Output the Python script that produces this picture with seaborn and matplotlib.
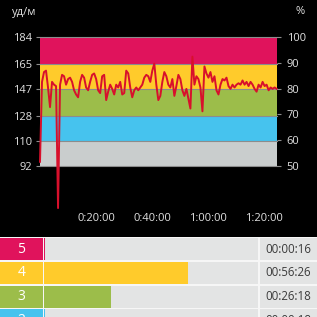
import numpy as np
import matplotlib
matplotlib.use("Agg")
import matplotlib.pyplot as plt
import seaborn as sns
from matplotlib.patches import Rectangle

# heart rate samples (bpm), one sample every ~43 s
step_min = 0.715
hr = [95, 152, 159, 160, 148, 134, 152, 150, 149, 62,
      150, 157, 156, 150, 154, 155, 152, 146, 143, 141,
      152, 157, 155, 148, 146, 152, 157, 158, 154, 146,
      144, 156, 157, 139, 145, 150, 147, 143, 150, 148,
      152, 143, 144, 160, 158, 148, 141, 146, 148, 146,
      148, 150, 155, 157, 156, 152, 160, 165, 150, 139,
      142, 152, 159, 156, 150, 148, 154, 142, 149, 157,
      154, 146, 142, 147, 140, 133, 170, 150, 156, 154,
      148, 131, 163, 158, 155, 159, 152, 156, 146, 143,
      150, 154, 153, 155, 149, 147, 150, 148, 150, 151,
      150, 153, 150, 152, 149, 152, 150, 147, 145, 150,
      148, 152, 149, 150, 146, 148, 147, 148, 147]

zone_edges = [92, 110, 128, 147, 165, 184]
zone_colors = ["#c9cdcd", "#46c3ee", "#9cbd4a", "#ffcb2b", "#e0135c"]
pct_ticks = [50, 60, 70, 80, 90, 100]
time_ticks = [20, 40, 60, 80]
time_labels = ["0:20:00", "0:40:00", "1:00:00", "1:20:00"]

zones = ["5", "4", "3", "2"]
zone_row_colors = ["#e0135c", "#ffcb2b", "#9cbd4a", "#46c3ee"]
zone_minutes = [16 / 60, 56 + 26 / 60, 26 + 18 / 60, 0.3]
zone_times = ["00:00:16", "00:56:26", "00:26:18", "00:00:18"]
bar_max = 84.0

plt.rcParams["font.family"] = ["Open Sans", "DejaVu Sans"]
txt_color = "#e2e2e2"
W = H = 317

fig = plt.figure(figsize=(3.17, 3.17), dpi=100, facecolor="black")


def fax(x0, y0, x1, y1):
    # axes placed in pixel coordinates
    return fig.add_axes([x0 / W, 1 - y1 / H, (x1 - x0) / W, (y1 - y0) / H])


# ---- heart rate chart
ax = fax(40, 37, 277, 166)
ax.set_facecolor("black")
for lo, hi, c in zip(zone_edges[:-1], zone_edges[1:], zone_colors):
    ax.axhspan(lo, hi, color=c, lw=0, zorder=0)
for e in zone_edges:
    ax.axhline(e, color="#8c8c8c", lw=0.8, zorder=1, clip_on=False)

t = np.arange(len(hr)) * step_min
sns.lineplot(x=t, y=hr, ax=ax, color="#d8102c", lw=1.4, zorder=3)
for ln in ax.lines:
    ln.set_clip_on(False)

ax.set_xlim(0, 84.5)
ax.set_ylim(92, 184)
ax.set_yticks(zone_edges)
ax.set_xticks(time_ticks, time_labels)
ax.set_xlabel("")
ax.set_ylabel("")
ax.tick_params(axis="y", length=3, width=0.8, color="#8c8c8c", pad=3,
               labelsize=8, labelcolor=txt_color)
ax.tick_params(axis="x", length=0, pad=34, labelsize=8, labelcolor=txt_color)
for s in ax.spines.values():
    s.set_visible(False)

ax_r = ax.twinx()
ax_r.set_ylim(50, 100)
ax_r.set_yticks(pct_ticks)
ax_r.tick_params(axis="y", length=3, width=0.8, color="#8c8c8c", pad=4,
                 labelsize=8, labelcolor=txt_color)
for s in ax_r.spines.values():
    s.set_visible(False)

fig.text(12 / W, 1 - 13 / H, "уд/м", color=txt_color, fontsize=8,
         ha="left", va="center")
fig.text(300 / W, 1 - 12 / H, "%", color=txt_color, fontsize=8,
         ha="center", va="center")

# ---- zone table
rows_top = 237.3
pitch = 23.8
ylim = (-0.5 + (H - rows_top) / pitch, -0.5)
fig.add_artist(Rectangle((0, 0), 1, 1 - rows_top / H, transform=fig.transFigure,
                         color="#f6f6f6", lw=0, zorder=-1))

ax_lab = fax(0, rows_top, 42.7, H)
sns.barplot(x=[1] * len(zones), y=zones, hue=zones, palette=zone_row_colors,
            orient="y", width=0.94, saturation=1, legend=False, ax=ax_lab)
ax_lab.set_xlim(0, 1)
ax_lab.set_ylim(*ylim)
ax_lab.set_axis_off()
for i, z in enumerate(zones):
    ax_lab.text(0.5, i, z, color="white", fontsize=10, ha="center", va="center")

ax_bar = fax(44, rows_top, 258, H)
sns.barplot(x=[bar_max] * len(zones), y=zones, color="#e3e4e4",
            orient="y", width=0.94, saturation=1, ax=ax_bar)
sns.barplot(x=zone_minutes, y=zones, hue=zones, palette=zone_row_colors,
            orient="y", width=0.94, saturation=1, legend=False, ax=ax_bar)
ax_bar.set_xlim(0, bar_max)
ax_bar.set_ylim(*ylim)
ax_bar.set_axis_off()

ax_time = fax(259.5, rows_top, H, H)
sns.barplot(x=[1] * len(zones), y=zones, color="#e3e4e4",
            orient="y", width=0.94, saturation=1, ax=ax_time)
ax_time.set_xlim(0, 1)
ax_time.set_ylim(*ylim)
ax_time.set_axis_off()
for i, tm in enumerate(zone_times):
    ax_time.text(0.5, i, tm, color="#3a3a3a", fontsize=8.3,
                 ha="center", va="center")

fig.savefig("out.png", dpi=100, facecolor="black")
plt.close()
